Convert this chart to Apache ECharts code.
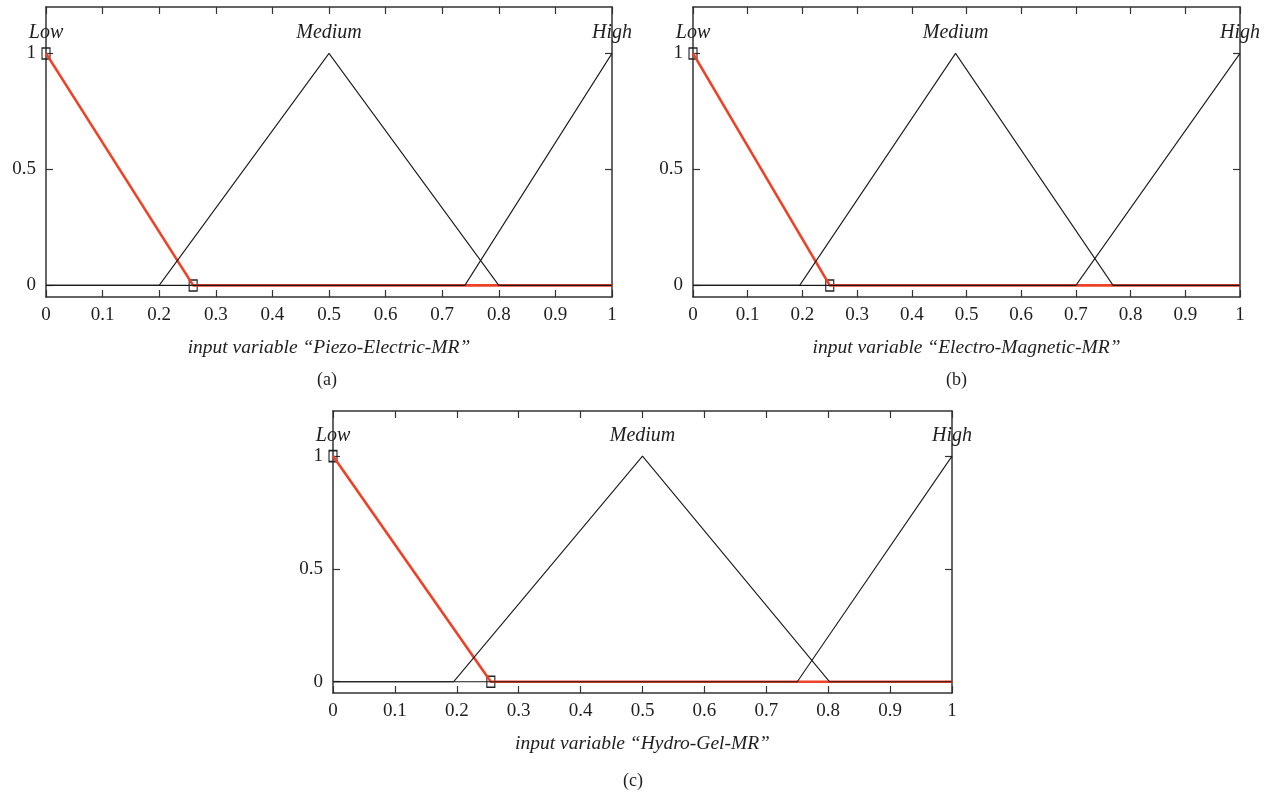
<!DOCTYPE html>
<html><head><meta charset="utf-8">
<script src="https://cdn.jsdelivr.net/npm/echarts@6/dist/echarts.min.js"></script>
<style>html,body{margin:0;padding:0;background:#fff}#c{width:1271px;height:799px}</style>
</head><body><div id="c"></div>
<script>
// ---- data ----
const xTickValues = [0,0.1,0.2,0.3,0.4,0.5,0.6,0.7,0.8,0.9,1];
const yTickValues = [0,0.5,1];
const termNames = ['Low','Medium','High'];

const aName = 'input variable \u201cPiezo-Electric-MR\u201d';
const aLow = [[0,1],[0.26,0],[1,0]];
const aMedium = [[0,0],[0.2,0],[0.5,1],[0.8,0],[1,0]];
const aHigh = [[0,0],[0.74,0],[1,1]];
const aPoints = [[0,1],[0.26,0]];
const aPeaks = [0,0.5,1];

const bName = 'input variable \u201cElectro-Magnetic-MR\u201d';
const bLow = [[0,1],[0.25,0],[1,0]];
const bMedium = [[0,0],[0.195,0],[0.48,1],[0.768,0],[1,0]];
const bHigh = [[0,0],[0.70,0],[1,1]];
const bPoints = [[0,1],[0.25,0]];
const bPeaks = [0,0.48,1];

const cName = 'input variable \u201cHydro-Gel-MR\u201d';
const cLow = [[0,1],[0.255,0],[1,0]];
const cMedium = [[0,0],[0.195,0],[0.5,1],[0.802,0],[1,0]];
const cHigh = [[0,0],[0.75,0],[1,1]];
const cPoints = [[0,1],[0.255,0]];
const cPeaks = [0,0.5,1];

const labelY = 1.09;

// ---- build ----
const SERIF = '"Liberation Serif", "DejaVu Serif", serif';
const AX = '#333';
const TXT = '#1e1e1e';
const panels = [
  {name:aName, low:aLow, med:aMedium, high:aHigh, pts:aPoints, peaks:aPeaks, grid:{left:46, top:7, width:566, height:290}},
  {name:bName, low:bLow, med:bMedium, high:bHigh, pts:bPoints, peaks:bPeaks, grid:{left:693, top:7, width:547, height:290}},
  {name:cName, low:cLow, med:cMedium, high:cHigh, pts:cPoints, peaks:cPeaks, grid:{left:333, top:411, width:619, height:282}}
];
const grid=[], xAxis=[], yAxis=[], series=[];
panels.forEach((p,i)=>{
  grid.push(Object.assign({containLabel:false}, p.grid));
  const lineStyle = {color:AX, width:1.5};
  xAxis.push({type:'value', gridIndex:i, min:0, max:1, interval:0.1, position:'bottom',
    name:p.name, nameLocation:'middle', nameGap:41,
    nameTextStyle:{fontFamily:SERIF, fontStyle:'italic', fontSize:19.5, color:TXT},
    axisLine:{show:true, onZero:false, lineStyle},
    axisTick:{show:true, inside:true, length:7, lineStyle:{color:AX,width:1.2}},
    axisLabel:{show:true, margin:9, fontFamily:SERIF, fontSize:19, color:TXT},
    splitLine:{show:false}});
  xAxis.push({type:'value', gridIndex:i, min:0, max:1, interval:0.1, position:'top',
    axisLine:{show:true, onZero:false, lineStyle},
    axisTick:{show:true, inside:true, length:7, lineStyle:{color:AX,width:1.2}},
    axisLabel:{show:false}, splitLine:{show:false}});
  yAxis.push({type:'value', gridIndex:i, min:-0.05, max:1.2, position:'left',
    axisLine:{show:true, onZero:false, lineStyle},
    axisTick:{show:true, inside:true, length:7, customValues:yTickValues, lineStyle:{color:AX,width:1.2}},
    axisLabel:{show:true, margin:10, customValues:yTickValues, fontFamily:SERIF, fontSize:19, color:TXT},
    splitLine:{show:false}});
  yAxis.push({type:'value', gridIndex:i, min:-0.05, max:1.2, position:'right',
    axisLine:{show:true, onZero:false, lineStyle},
    axisTick:{show:true, inside:true, length:7, customValues:yTickValues, lineStyle:{color:AX,width:1.2}},
    axisLabel:{show:false}, splitLine:{show:false}});
  const xi=2*i, yi=2*i;
  series.push({type:'line', xAxisIndex:xi, yAxisIndex:yi, data:p.low, symbol:'none',
    lineStyle:{color:'#ee4126', width:2.6}, silent:true, animation:false});
  series.push({type:'line', xAxisIndex:xi, yAxisIndex:yi, data:p.med, symbol:'none',
    lineStyle:{color:'#1a1a1a', width:1.1}, silent:true, animation:false});
  series.push({type:'line', xAxisIndex:xi, yAxisIndex:yi, data:p.high, symbol:'none',
    lineStyle:{color:'#1a1a1a', width:1.1}, silent:true, animation:false});
  series.push({type:'scatter', xAxisIndex:xi, yAxisIndex:yi, data:p.pts, symbol:'rect', symbolSize:[8,11],
    itemStyle:{color:'rgba(255,255,255,0)', borderColor:'#222', borderWidth:1.3, opacity:1}, silent:true, animation:false});
  series.push({type:'scatter', xAxisIndex:xi, yAxisIndex:yi, symbolSize:0, clip:false,
    itemStyle:{opacity:1},
    data:p.peaks.map((x,k)=>({value:[x,labelY], name:termNames[k]})),
    label:{show:true, position:'inside', formatter:d=>d.name, fontFamily:SERIF, fontStyle:'italic', fontSize:20, color:TXT, opacity:1},
    silent:true, animation:false});
});
const chart = echarts.init(document.getElementById('c'), null, {renderer:'canvas'});
chart.setOption({
  animation:false,
  grid, xAxis, yAxis, series,
  graphic:[
    {type:'text', left:329-12, top:371, style:{text:'(a)', font:'18px '+SERIF, fill:TXT}},
    {type:'text', left:958-12, top:371, style:{text:'(b)', font:'18px '+SERIF, fill:TXT}},
    {type:'text', left:635-12, top:772, style:{text:'(c)', font:'18px '+SERIF, fill:TXT}}
  ]
});
</script></body></html>
